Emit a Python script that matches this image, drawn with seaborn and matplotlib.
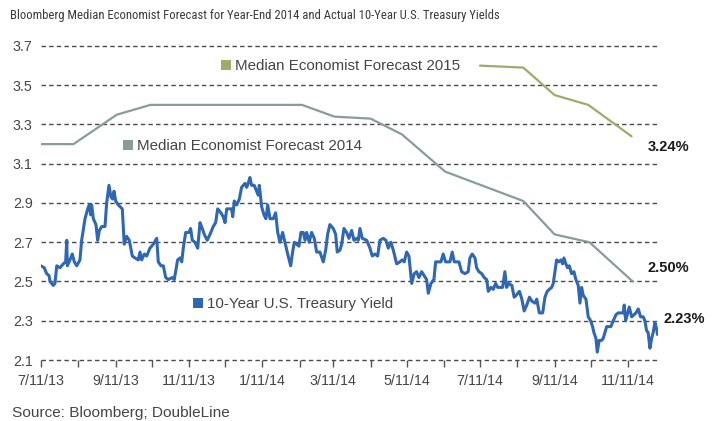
import numpy as np
import pandas as pd
import matplotlib
matplotlib.use("Agg")
import matplotlib.pyplot as plt
import seaborn as sns
from matplotlib import font_manager
from matplotlib.patches import Rectangle

# ---------------- data ----------------
start_date = "2013-07-11"

# 10-Year U.S. Treasury Yield (days since 2013-07-11, yield %)
yield_days = [
    0.0, 2.7, 4.7, 6.7, 7.5, 10.2, 11.6, 13.1, 15.8, 18.5, 20.5, 21.4, 21.9, 24.1, 26.0, 27.7, 29.7,
    32.4, 33.8, 36.6, 38.8, 40.2, 41.3, 42.1, 43.5, 45.7, 47.1, 48.5, 50.5, 53.2, 54.6, 56.5, 58.2,
    59.6, 60.7, 62.1, 64.3, 67.6, 69.2, 71.2, 73.4, 75.9, 78.1, 80.9, 82.3, 83.7, 85.9, 87.9, 90.6,
    93.4, 96.2, 97.5, 99.8, 101.7, 103.7, 105.8, 109.1, 110.8, 113.6, 115.6, 117.0, 118.3, 120.3,
    123.0, 124.4, 125.8, 128.0, 130.3, 132.2, 134.1, 135.8, 138.2, 140.5, 143.2, 145.2, 146.9, 149.6,
    151.5, 153.0, 154.4, 156.5, 158.5, 159.4, 160.7, 162.7, 164.9, 166.8, 169.6, 171.0, 172.3, 173.7,
    175.1, 177.3, 179.3, 180.6, 181.5, 183.5, 185.4, 187.0, 188.5, 190.4, 193.1, 195.1, 196.8, 198.7,
    200.9, 202.8, 205.1, 207.6, 209.2, 210.6, 212.6, 214.5, 216.1, 218.1, 219.5, 220.9, 223.0, 225.0,
    227.2, 229.2, 231.9, 234.7, 236.7, 238.3, 240.2, 243.0, 245.0, 246.3, 248.6, 250.0, 251.9, 254.1,
    256.0, 258.3, 260.2, 262.4, 263.8, 265.2, 267.1, 270.8, 273.5, 275.4, 277.7, 279.9, 281.8, 284.6,
    286.8, 288.7, 291.0, 292.9, 295.7, 298.4, 300.3, 302.0, 304.0, 305.9, 308.2, 310.3, 312.3, 314.2,
    316.5, 318.6, 320.6, 322.0, 324.2, 326.7, 328.1, 330.3, 332.5, 334.4, 336.4, 338.1, 340.0, 341.9,
    343.6, 345.6, 347.5, 349.7, 352.5, 355.2, 356.6, 358.5, 360.8, 362.2, 364.1, 366.4, 368.5, 370.5,
    371.9, 374.1, 376.0, 378.0, 379.7, 382.2, 383.8, 385.7, 387.1, 389.0, 391.5, 393.4, 395.1, 397.8,
    399.8, 401.7, 403.9, 406.1, 408.1, 410.7, 412.2, 414.3, 417.1, 419.0, 420.9, 422.6, 424.6, 425.9,
    427.3, 428.7, 430.6, 432.3, 433.7, 434.8, 436.4, 437.8, 439.2, 441.2, 443.1, 444.7, 446.7, 448.1,
    449.5, 450.8, 453.1, 455.0, 457.0, 458.6, 459.7, 461.4, 462.5, 464.1, 466.1, 467.4, 468.9, 470.3,
    472.2, 473.8, 475.8, 478.0, 479.9, 481.9, 484.1, 484.9, 486.1, 487.4, 489.1, 491.1, 493.0, 494.6,
    496.6, 498.5, 500.7, 502.1, 503.5, 504.8, 506.3, 507.7, 509.0, 510.4, 511.8, 512.6,
]
yield_values = [
    2.58, 2.57, 2.54, 2.53, 2.50, 2.48, 2.49, 2.58, 2.57, 2.59, 2.60, 2.71, 2.58, 2.61, 2.64, 2.60, 2.58,
    2.61, 2.71, 2.82, 2.87, 2.89, 2.84, 2.89, 2.82, 2.79, 2.71, 2.76, 2.78, 2.78, 2.90, 2.99, 2.93,
    2.92, 2.96, 2.91, 2.89, 2.87, 2.69, 2.73, 2.71, 2.63, 2.62, 2.61, 2.65, 2.61, 2.64, 2.63, 2.67,
    2.69, 2.72, 2.60, 2.58, 2.58, 2.52, 2.51, 2.52, 2.51, 2.61, 2.62, 2.60, 2.67, 2.75,
    2.75, 2.77, 2.71, 2.70, 2.67, 2.80, 2.77, 2.74, 2.71, 2.74, 2.78, 2.80, 2.87, 2.85,
    2.83, 2.80, 2.87, 2.87, 2.87, 2.83, 2.91, 2.89, 2.92, 2.98, 3.00, 2.98, 3.00, 3.03,
    2.99, 2.99, 2.96, 2.94, 2.99, 2.88, 2.84, 2.82, 2.89, 2.82, 2.82, 2.85, 2.75, 2.70,
    2.75, 2.70, 2.64, 2.58, 2.65, 2.70, 2.69, 2.68, 2.75, 2.75, 2.71, 2.75, 2.70, 2.75,
    2.72, 2.65, 2.65, 2.60, 2.66, 2.74, 2.79, 2.77, 2.74, 2.65, 2.66, 2.69, 2.77, 2.75,
    2.72, 2.76, 2.71, 2.72, 2.71, 2.77, 2.72, 2.71, 2.67, 2.63, 2.64, 2.63, 2.71, 2.72,
    2.71, 2.67, 2.70, 2.66, 2.59, 2.60, 2.61, 2.60, 2.65, 2.63, 2.49, 2.54, 2.55, 2.52,
    2.55, 2.53, 2.51, 2.44, 2.49, 2.51, 2.60, 2.60, 2.60, 2.64, 2.60, 2.60, 2.60, 2.65,
    2.60, 2.60, 2.60, 2.55, 2.54, 2.55, 2.62, 2.64, 2.62, 2.57, 2.55, 2.54, 2.52, 2.51,
    2.45, 2.47, 2.46, 2.49, 2.47, 2.47, 2.47, 2.55, 2.47, 2.49, 2.48, 2.42, 2.43, 2.45,
    2.41, 2.35, 2.38, 2.42, 2.40, 2.39, 2.41, 2.34, 2.34, 2.42, 2.45, 2.46, 2.47, 2.49,
    2.55, 2.61, 2.60, 2.61, 2.59, 2.62, 2.59, 2.57, 2.58, 2.54, 2.55, 2.51, 2.48, 2.39,
    2.47, 2.43, 2.41, 2.32, 2.30, 2.27, 2.24, 2.21, 2.14, 2.20, 2.20, 2.21, 2.24, 2.27,
    2.27, 2.27, 2.30, 2.33, 2.34, 2.34, 2.34, 2.38, 2.30, 2.33, 2.37, 2.32, 2.33, 2.34,
    2.36, 2.32, 2.32, 2.30, 2.25, 2.24, 2.16, 2.21, 2.24, 2.29, 2.26, 2.23,
]

# Median Economist Forecast 2014 (days since 2013-07-11, %)
f14_days = [0, 27, 63, 91, 217, 244, 274, 300, 336, 401, 427, 456, 492]
f14_values = [3.20, 3.20, 3.35, 3.40, 3.40, 3.34, 3.33, 3.25, 3.06, 2.91, 2.74, 2.70, 2.50]

# Median Economist Forecast 2015
f15_days = [365, 401, 427, 455, 491]
f15_values = [3.60, 3.59, 3.45, 3.40, 3.24]

y_ticks = [2.1, 2.3, 2.5, 2.7, 2.9, 3.1, 3.3, 3.5, 3.7]
x_tick_dates = ["2013-07-11", "2013-08-11", "2013-09-11", "2013-10-11", "2013-11-11",
                "2013-12-11", "2014-01-11", "2014-02-11", "2014-03-11", "2014-04-11",
                "2014-05-11", "2014-06-11", "2014-07-11", "2014-08-11", "2014-09-11",
                "2014-10-11", "2014-11-11"]
x_tick_labels = ["7/11/13", "", "9/11/13", "", "11/11/13", "", "1/11/14", "", "3/11/14", "",
                 "5/11/14", "", "7/11/14", "", "9/11/14", "", "11/11/14"]

series_names = ["10-Year U.S. Treasury Yield", "Median Economist Forecast 2014",
                "Median Economist Forecast 2015"]
end_labels = ["2.23%", "2.50%", "3.24%"]

title = "Bloomberg Median Economist Forecast for Year-End 2014 and Actual 10-Year U.S. Treasury Yields"
source = "Source: Bloomberg; DoubleLine"

# ---------------- styling ----------------
sns.set_theme(style="white")
available = {f.name for f in font_manager.fontManager.ttflist}
regular = "Liberation Sans" if "Liberation Sans" in available else "DejaVu Sans"
narrow = next((n for n in ["Liberation Sans Narrow", "DejaVu Sans Condensed", "Roboto Condensed"]
               if n in available), regular)
plt.rcParams["font.family"] = [regular, "DejaVu Sans"]

c_blue = "#2f67b4"
c_gray = "#879d99"
c_green = "#9dab6b"
c_text = "#454545"
c_grid = "#4a4a4a"

W, H = 721, 421
fig = plt.figure(figsize=(W / 100, H / 100), dpi=100)
ax_left, ax_right, ax_top, ax_bottom = 41, 658, 46, 360
ax = fig.add_axes([ax_left / W, 1 - ax_bottom / H, (ax_right - ax_left) / W, (ax_bottom - ax_top) / H])

t0 = pd.Timestamp(start_date)
df_y = pd.DataFrame({"date": t0 + pd.to_timedelta(yield_days, unit="D"), "value": yield_values})
df_14 = pd.DataFrame({"date": t0 + pd.to_timedelta(f14_days, unit="D"), "value": f14_values})
df_15 = pd.DataFrame({"date": t0 + pd.to_timedelta(f15_days, unit="D"), "value": f15_values})

# grid lines (dashed)
for yv in y_ticks:
    ax.axhline(yv, color=c_grid, lw=1.0, ls=(0, (3.2, 2.3)), zorder=1, clip_on=False)

sns.lineplot(data=df_14, x="date", y="value", ax=ax, color=c_gray, lw=1.6, zorder=3)
sns.lineplot(data=df_15, x="date", y="value", ax=ax, color=c_green, lw=1.6, zorder=3)
sns.lineplot(data=df_y, x="date", y="value", ax=ax, color=c_blue, lw=2.2, zorder=4)

ax.set_xlim(t0, t0 + pd.Timedelta(days=513))
ax.set_ylim(y_ticks[0], y_ticks[-1])
for s in ax.spines.values():
    s.set_visible(False)
ax.set_xlabel("")
ax.set_ylabel("")

ax.set_yticks(y_ticks)
ax.set_yticklabels([f"{v:.1f}" for v in y_ticks])
ax.set_xticks(pd.to_datetime(x_tick_dates))
ax.set_xticklabels(x_tick_labels)
ax.tick_params(axis="y", length=0, pad=6, labelsize=10.3, labelcolor=c_text)
ax.tick_params(axis="x", direction="out", length=5, width=1.0, color="#555555", pad=5,
               labelsize=10.3, labelcolor=c_text, bottom=True)

def fx(px):
    return px / W

def fy(py):
    return 1 - py / H

# title and source
fig.text(fx(10), fy(19.5), title, family=[narrow, "DejaVu Sans"], size=9.1, color="#3a3a3a",
         va="baseline", ha="left")
fig.text(fx(12), fy(417), source, size=11.1, color=c_text, va="baseline", ha="left")

# inline legend labels
legend_items = [
    (series_names[2], c_green, 221, 70),
    (series_names[1], c_gray, 123, 150),
    (series_names[0], c_blue, 193, 308.3),
]
for name, col, px, base in legend_items:
    fig.patches.append(Rectangle((fx(px), fy(base)), 10 / W, 10 / H, transform=fig.transFigure,
                                 facecolor=col, edgecolor="none"))
    fig.text(fx(px + 14), fy(base), name, size=10.9, color=c_text, va="baseline", ha="left")

# end value labels
for txt, px, base in [(end_labels[0], 664, 323.3), (end_labels[1], 647.5, 271.7), (end_labels[2], 648, 151)]:
    fig.text(fx(px), fy(base), txt, size=10.5, weight="bold", color="#1a1a1a", va="baseline", ha="left")

fig.savefig("out.png", dpi=100)
